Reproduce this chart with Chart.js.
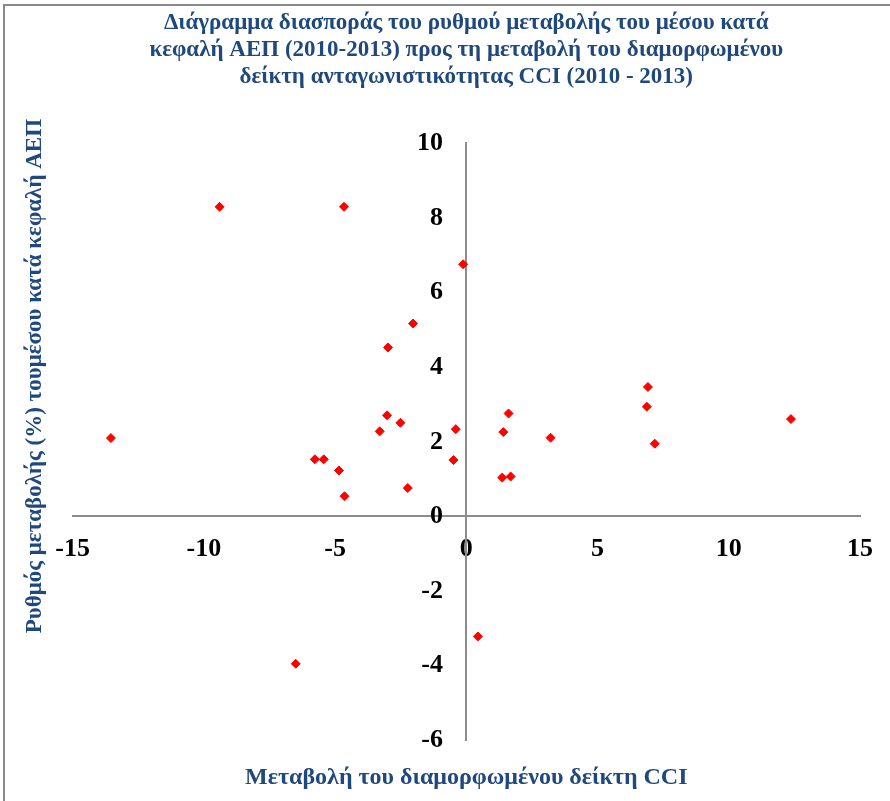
<!DOCTYPE html>
<html>
<head>
<meta charset="utf-8">
<script src="https://cdn.jsdelivr.net/npm/chart.js@4.4.0/dist/chart.umd.min.js"></script>
<style>
  body { margin: 0; background: #fff; }
  #wrap { position: relative; width: 890px; height: 801px; }
  #frame { position: absolute; left: 3px; top: 4px; right: 0; bottom: 0;
           border-left: 2px solid #8a8a8a; border-top: 2px solid #8a8a8a; pointer-events: none; }
</style>
</head>
<body>
<div id="wrap">
  <canvas id="scatter" width="890" height="801"></canvas>
  <div id="frame"></div>
</div>
<script>
// data
const cciChange = [-13.54, -9.40, -4.66, -0.12, -2.03, -2.98, -3.02, -2.51, -3.30, -0.40,
                   -5.77, -5.43, -4.85, -0.49, -2.23, -4.64, 6.92, 6.88, 12.37, 1.61,
                   1.41, 3.21, 7.18, 1.37, 1.69, 0.44, -6.50];
const gdpChange = [2.10, 8.30, 8.30, 6.76, 5.17, 4.53, 2.71, 2.51, 2.28, 2.34,
                   1.53, 1.53, 1.23, 1.51, 0.76, 0.54, 3.47, 2.94, 2.61, 2.76,
                   2.26, 2.11, 1.95, 1.04, 1.07, -3.22, -3.95];
const xTicks = [-15, -10, -5, 0, 5, 10, 15];
const yTicks = [-6, -4, -2, 0, 2, 4, 6, 8, 10];

const titleLines = ['Διάγραμμα διασποράς του ρυθμού μεταβολής του μέσου κατά',
                    'κεφαλή ΑΕΠ (2010-2013) προς τη μεταβολή του διαμορφωμένου',
                    'δείκτη ανταγωνιστικότητας CCI (2010 - 2013)'];
const xTitle = 'Μεταβολή του διαμορφωμένου δείκτη CCI';
const yTitle = 'Ρυθμός μεταβολής (%) τουμέσου κατά κεφαλή ΑΕΠ';

const serif = "'Liberation Serif', 'Times New Roman', serif";
const blue = '#1F497D';

const points = cciChange.map((x, i) => ({ x: x, y: gdpChange[i] }));

const ctx = document.getElementById('scatter').getContext('2d');
const myChart = new Chart(ctx, {
    type: 'scatter',
    data: {
        datasets: [{
            data: points,
            pointStyle: 'rectRot',
            pointRadius: 4.5,
            backgroundColor: '#FF0000',
            borderColor: '#FF0000',
            borderWidth: 1
        }]
    },
    options: {
        responsive: false,
        animation: false,
        layout: { padding: { left: 0, right: 30, top: 0, bottom: 0 } },
        plugins: {
            legend: { display: false },
            tooltip: { enabled: false },
            title: {
                display: true,
                fullSize: false,
                text: titleLines,
                color: blue,
                font: { family: serif, size: 23, weight: 'bold', lineHeight: 1.18 },
                padding: { top: 9, bottom: 53 }
            }
        },
        scales: {
            x: {
                type: 'linear',
                position: { y: 0 },
                min: xTicks[0],
                max: xTicks[xTicks.length - 1],
                afterBuildTicks: axis => { axis.ticks = xTicks.map(v => ({ value: v })); },
                grid: { display: false, drawTicks: false },
                border: { display: true, color: '#8c8c8c', width: 2 },
                ticks: { color: '#000', padding: 17, font: { family: serif, size: 26, weight: 'bold' } }
            },
            y: {
                type: 'linear',
                position: { x: 0 },
                min: yTicks[0],
                max: yTicks[yTicks.length - 1],
                afterBuildTicks: axis => { axis.ticks = yTicks.map(v => ({ value: v })); },
                grid: { display: false, drawTicks: false },
                border: { display: true, color: '#8c8c8c', width: 2 },
                // centred axes ignore ticks.padding, so keep the gap with spaces
                ticks: { color: '#000', font: { family: serif, size: 26, weight: 'bold' },
                         callback: v => v + '\u2002\u2009\u2009' }
            },
            // extra boxes only used to place the axis titles like the original
            xName: {
                type: 'linear', position: 'bottom', display: true,
                grid: { display: false, drawTicks: false },
                border: { display: false },
                ticks: { display: false },
                title: {
                    display: true, text: xTitle, color: blue,
                    font: { family: serif, size: 24, weight: 'bold' },
                    padding: { top: 23, bottom: 9 }
                }
            },
            yName: {
                type: 'linear', position: 'left', display: true,
                stack: 'ytitle', stackWeight: 460, weight: 2,
                grid: { display: false, drawTicks: false },
                border: { display: false },
                ticks: { display: false },
                title: {
                    display: true, text: yTitle, color: blue,
                    font: { family: serif, size: 23, weight: 'bold' },
                    padding: { top: 21, bottom: 24 }
                }
            },
            yRest: {
                type: 'linear', position: 'left', display: true,
                stack: 'ytitle', stackWeight: 130, weight: 1,
                grid: { display: false, drawTicks: false },
                border: { display: false },
                ticks: { display: false }
            }
        }
    }
});
</script>
</body>
</html>
